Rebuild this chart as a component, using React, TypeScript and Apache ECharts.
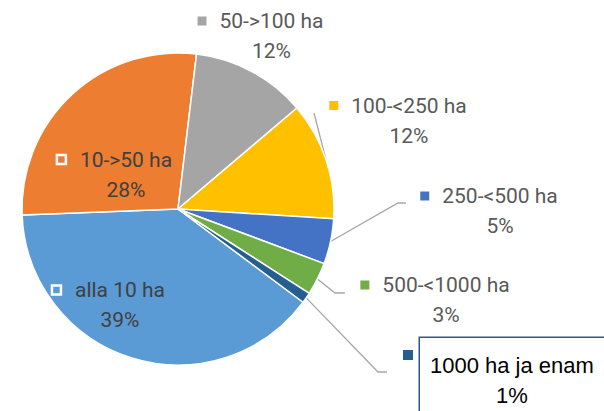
import React, { useEffect, useRef } from 'react';
import * as echarts from 'echarts';

const categories = ['alla 10 ha', '10->50 ha', '50->100 ha', '100-<250 ha', '250-<500 ha', '500-<1000 ha', '1000 ha ja enam'];
const shares = [39.2, 27.5, 11.9, 12.2, 4.7, 3.4, 1.1];
const colors = ['#5B9BD5', '#ED7D31', '#A5A5A5', '#FFC000', '#4472C4', '#70AD47', '#255E91'];

// label block placement (centre of block, or top-left for the boxed label) and leader line bends
const labelPlacement: any[] = [
  { x: 108.5, y: 305 },
  { x: 114.5, y: 174.5 },
  { x: 260.5, y: 36 },
  { x: 398, y: 120.5, end: [314, 113], straight: true },
  { x: 489, y: 211, bend: [398, 203], end: [406, 203] },
  { x: 435, y: 300, bend: [335, 293], end: [345, 293] },
  { x: 420, y: 338, box: true, bend: [378, 372], end: [387, 372] },
];

const FONT = 'Roboto';

export default function App() {
  const ref = useRef<HTMLDivElement>(null);
  useEffect(() => {
    document.body.style.margin = '0';
    const chart = echarts.init(ref.current!, undefined, { renderer: 'svg' });
    const base = { fontFamily: FONT, fontSize: 21, lineHeight: 30, align: 'center', verticalAlign: 'middle' };
    const rich: any = {
      n: { ...base, color: '#595959', padding: [0, 0, 0, 13] },
      p: { ...base, color: '#595959', padding: [0, 0, 0, 22] },
      ni: { ...base, color: '#404040', padding: [0, 0, 0, 14] },
      pi: { ...base, color: '#404040', padding: [0, 0, 0, 23] },
      w: { width: 9, height: 9, lineHeight: 30, borderColor: '#ffffff', borderWidth: 2.5, align: 'center', verticalAlign: 'middle' },
      b: { fontFamily: 'Liberation Sans', fontSize: 22, lineHeight: 30, color: '#000000', align: 'center', verticalAlign: 'middle' },
    };
    colors.forEach((c, i) => {
      rich['m' + i] = { width: 9, height: 9, lineHeight: 30, backgroundColor: c, align: 'center', verticalAlign: 'middle' };
    });

    chart.setOption({
      animation: false,
      graphic: [
        { type: 'rect', shape: { x: 403, y: 350, width: 10, height: 10 }, style: { fill: colors[6] }, z: 100 },
      ],
      series: [
        {
          type: 'pie',
          center: [178, 209],
          radius: 156,
          startAngle: 323.3,
          clockwise: true,
          avoidLabelOverlap: false,
          itemStyle: { borderColor: '#ffffff', borderWidth: 1.5 },
          label: {
            show: true,
            position: 'outside',
            rich,
            formatter: (p: any) => {
              const i = p.dataIndex;
              const pct = Math.round(p.percent) + '%';
              if (i === 6) return `{b|${p.name}}\n{b|${pct}}`;
              if (i <= 1) return `{w| }{ni|${p.name}}\n{pi|${pct}}`;
              return `{m${i}| }{n|${p.name}}\n{p|${pct}}`;
            },
          },
          labelLine: { show: true, lineStyle: { color: '#A6A6A6', width: 1.3 } },
          labelLayout: (params: any) => {
            const i = params.dataIndex;
            const L = labelPlacement[i];
            const out: any = L.box
              ? { x: L.x, y: L.y, align: 'left', verticalAlign: 'top' }
              : { x: L.x, y: L.y, align: 'center', verticalAlign: 'middle' };
            const pts = params.labelLinePoints;
            if (pts && L.end) {
              const s = pts[0];
              const mid = L.straight ? [(s[0] + L.end[0]) / 2, (s[1] + L.end[1]) / 2] : L.bend;
              out.labelLinePoints = [s, mid, L.end];
            }
            return out;
          },
          data: categories.map((name, i) => ({
            name,
            value: shares[i],
            itemStyle: { color: colors[i] },
            label:
              i === 6
                ? { borderColor: '#2F5597', borderWidth: 1.5, backgroundColor: '#ffffff', padding: [12, 20, 14, 10] }
                : i <= 1
                ? { position: 'inside' }
                : {},
            labelLine: { show: i >= 3 },
          })),
        },
      ],
    });
    return () => chart.dispose();
  }, []);
  return <div ref={ref} style={{ width: 604, height: 411 }} />;
}
